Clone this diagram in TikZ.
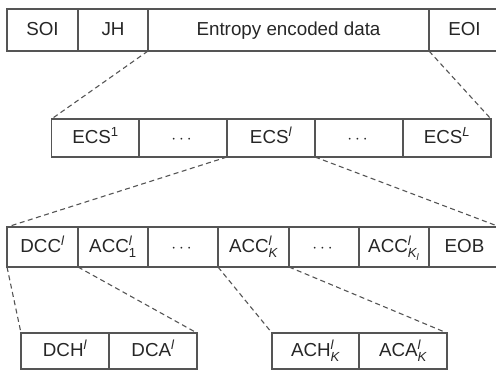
\documentclass[tikz,border=0pt]{standalone}
\usepackage{amsmath}
\usepackage{fontspec}
\setmainfont{Liberation Sans}
\definecolor{framegray}{HTML}{555555}
\definecolor{inkgray}{HTML}{262626}
\newcommand{\sym}[1]{\text{\itshape #1}}
\begin{document}
\begin{tikzpicture}[x=1pt,y=-1pt,
  cell/.style={draw=framegray, line width=1.3pt, rectangle, inner sep=0pt, outer sep=0pt,
    text=inkgray, font=\fontsize{18.8}{22}\selectfont, text height=13.4pt, text depth=3pt},
  zoomline/.style={draw=framegray, line width=1.1pt, dash pattern=on 5pt off 3.5pt}]
\useasboundingbox (0,0) rectangle (496,370);
\begin{scope}
\clip (0,0) rectangle (496,370);
% stream level
\node[cell, minimum width=71pt, minimum height=42pt] (soi) at (42.5,30) {SOI};
\node[cell, minimum width=70pt, minimum height=42pt] (jh) at (113,30) {JH};
\node[cell, minimum width=281pt, minimum height=42pt] (ent) at (288.5,30) {Entropy encoded data};
\node[cell, minimum width=71pt, minimum height=42pt] (eoi) at (464.5,30) {EOI};
% entropy coded segments
\node[cell, minimum width=88pt, minimum height=38pt] (ecsa) at (95.5,138) {ECS$^{\text{1}}$};
\node[cell, minimum width=88pt, minimum height=38pt] (dotsa) at (183,138) {$\cdots$};
\node[cell, minimum width=88pt, minimum height=38pt] (ecsl) at (271,138) {ECS$^{\sym{l}}$};
\node[cell, minimum width=88pt, minimum height=38pt] (dotsb) at (359,138) {$\cdots$};
\node[cell, minimum width=88pt, minimum height=38pt] (ecsL) at (447,138) {ECS$^{\sym{L}}$};
% coefficients of one block
\node[cell, minimum width=71pt, minimum height=40pt] (dcc) at (42.5,247) {DCC$^{\sym{l}}$};
\node[cell, minimum width=70pt, minimum height=40pt] (acca) at (113,247) {ACC$^{\sym{l}}_{\text{1}}$};
\node[cell, minimum width=70pt, minimum height=40pt] (dotsc) at (183,247) {$\cdots$};
\node[cell, minimum width=71pt, minimum height=40pt] (acck) at (253.5,247) {ACC$^{\sym{l}}_{\sym{K}}$};
\node[cell, minimum width=70pt, minimum height=40pt] (dotsd) at (324,247) {$\cdots$};
\node[cell, minimum width=70pt, minimum height=40pt] (acckl) at (394,247) {ACC$^{\sym{l}}_{\sym{K}_{\sym{l}}}$};
\node[cell, minimum width=71pt, minimum height=40pt] (eob) at (464.5,247) {EOB};
% code words
\node[cell, minimum width=88pt, minimum height=36pt] (dch) at (65,351) {DCH$^{\sym{l}}$};
\node[cell, minimum width=88pt, minimum height=36pt] (dca) at (153,351) {DCA$^{\sym{l}}$};
\node[cell, minimum width=87pt, minimum height=36pt] (achk) at (315.5,351) {ACH$^{\sym{l}}_{\sym{K}}$};
\node[cell, minimum width=88pt, minimum height=36pt] (acak) at (403,351) {ACA$^{\sym{l}}_{\sym{K}}$};
% expansion lines
\draw[zoomline] (jh.south east) -- (ecsa.north west);
\draw[zoomline] (ent.south east) -- (ecsL.north east);
\draw[zoomline] (ecsl.south west) -- (dcc.north west);
\draw[zoomline] (ecsl.south east) -- (eob.north east);
\draw[zoomline] (dcc.south west) -- (dch.north west);
\draw[zoomline] (dcc.south east) -- (dca.north east);
\draw[zoomline] (acck.south west) -- (achk.north west);
\draw[zoomline] (acck.south east) -- (acak.north east);
\end{scope}
\end{tikzpicture}
\end{document}
